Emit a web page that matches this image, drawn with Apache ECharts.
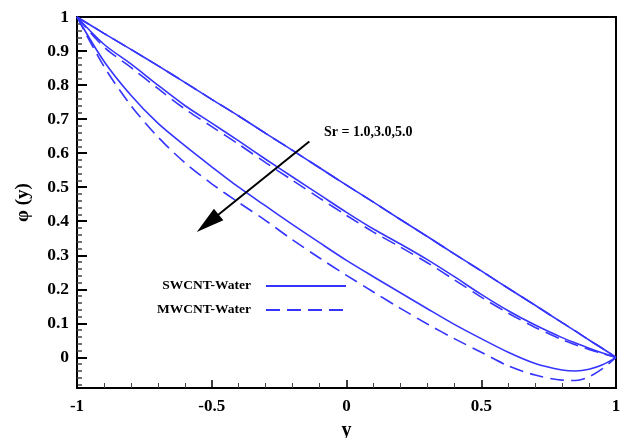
<!DOCTYPE html>
<html>
<head>
<meta charset="utf-8">
<script src="https://cdn.jsdelivr.net/npm/echarts@6/dist/echarts.min.js"></script>
<style>
html,body{margin:0;padding:0;background:#fff;}
#chart{width:622px;height:438px;}
</style>
</head>
<body>
<div id="chart"></div>
<script>
var yPos = [-1,-0.9,-0.8,-0.7,-0.6,-0.5,-0.4,-0.3,-0.2,-0.1,0,0.1,0.2,0.3,0.4,0.5,0.6,0.7,0.8,0.85,0.9,0.95,1];
var sw_Sr1 = [1,0.952,0.905,0.857,0.808,0.758,0.709,0.658,0.608,0.557,0.506,0.456,0.405,0.355,0.304,0.254,0.203,0.153,0.102,0.077,0.051,0.026,0];
var mw_Sr1 = [1,0.952,0.905,0.857,0.808,0.758,0.709,0.658,0.608,0.557,0.506,0.456,0.405,0.355,0.304,0.254,0.203,0.153,0.102,0.077,0.051,0.026,0];
var sw_Sr3 = [1,0.92,0.862,0.80,0.74,0.688,0.636,0.582,0.53,0.478,0.426,0.377,0.333,0.287,0.237,0.185,0.137,0.095,0.058,0.042,0.027,0.013,0];
var mw_Sr3 = [1,0.912,0.852,0.79,0.73,0.678,0.626,0.572,0.52,0.468,0.417,0.368,0.324,0.278,0.228,0.177,0.13,0.088,0.052,0.037,0.023,0.011,0];
var sw_Sr5 = [1,0.87,0.77,0.688,0.622,0.56,0.50,0.445,0.39,0.337,0.285,0.237,0.19,0.143,0.097,0.055,0.015,-0.018,-0.037,-0.04,-0.035,-0.022,0];
var mw_Sr5 = [1,0.855,0.74,0.648,0.572,0.51,0.455,0.402,0.345,0.292,0.241,0.192,0.144,0.098,0.055,0.015,-0.025,-0.052,-0.067,-0.068,-0.057,-0.033,0];
var yTickLabels = [0,0.1,0.2,0.3,0.4,0.5,0.6,0.7,0.8,0.9,1];
var yMinorTicks = [-0.08,-0.06,-0.04,-0.02,0.02,0.04,0.06,0.08,0.12,0.14,0.16,0.18,0.22,0.24,0.26,0.28,0.32,0.34,0.36,0.38,0.42,0.44,0.46,0.48,0.52,0.54,0.56,0.58,0.62,0.64,0.66,0.68,0.72,0.74,0.76,0.78,0.82,0.84,0.86,0.88,0.92,0.94,0.96,0.98];
var arrowStart = [-0.138, 0.634];
var arrowEnd = [-0.515, 0.394];
var annoText = 'Sr = 1.0,3.0,5.0';
var annoPos = [-0.0835, 0.661];

var FONT = '"Liberation Serif","Times New Roman",serif';
var BLUE = '#3535ff';
function pairs(vals){ return yPos.map(function(x,i){ return [x, vals[i]]; }); }
function mk(name, vals, dashed){
  return {
    name: name, type: 'line', data: pairs(vals), smooth: 0.3, symbol: 'none',
    lineStyle: {color: BLUE, width: 1.6, type: dashed ? [14,7] : 'solid'},
    itemStyle: {color: BLUE}, z: 3
  };
}
var chart = echarts.init(document.getElementById('chart'));
var series = [
  mk('SWCNT-Water', sw_Sr1, false),
  mk('SWCNT-Water', sw_Sr3, false),
  mk('SWCNT-Water', sw_Sr5, false),
  mk('MWCNT-Water', mw_Sr1, true),
  mk('MWCNT-Water', mw_Sr3, true),
  mk('MWCNT-Water', mw_Sr5, true),
  {
    type: 'line', data: [], silent: true,
    markLine: {
      silent: true, animation: false,
      symbol: ['none', 'triangle'], symbolSize: [15, 28],
      lineStyle: {color: '#000', width: 2, type: 'solid'},
      label: {show: false},
      data: [[{coord: arrowStart}, {coord: arrowEnd}]]
    }
  }
];
chart.setOption({
  animation: false,
  grid: {left: 77, right: 6, top: 17, bottom: 50, outerBoundsMode: 'none', containLabel: false,
    show: true, borderColor: '#000', borderWidth: 2},
  legend: {
    data: ['SWCNT-Water', 'MWCNT-Water'],
    orient: 'vertical', left: 152, top: 274, align: 'right',
    itemWidth: 80, itemHeight: 14, itemGap: 10,
    itemStyle: {opacity: 0},
    textStyle: {fontFamily: FONT, fontWeight: 'bold', fontSize: 13.5, color: '#000', padding: [0, 10, 0, 0]},
    selectedMode: false
  },
  xAxis: {
    type: 'value', min: -1, max: 1, interval: 0.5,
    name: 'y', nameLocation: 'middle', nameGap: 33,
    nameTextStyle: {fontFamily: FONT, fontWeight: 'bold', fontSize: 20, color: '#000'},
    axisLine: {show: true, onZero: false, lineStyle: {color: '#000', width: 2}},
    axisTick: {show: true, inside: true, length: 8, lineStyle: {color: '#000', width: 1.5}},
    minorTick: {show: true, splitNumber: 5, length: 5, lineStyle: {color: '#444', width: 1}},
    splitLine: {show: false},
    axisLabel: {fontFamily: FONT, fontWeight: 'bold', fontSize: 17, color: '#000', margin: 10,
      formatter: function(v){ return String(Math.round(v*10)/10); }}
  },
  yAxis: [{
    type: 'value', min: -0.09, max: 1,
    name: 'φ (y)', nameLocation: 'middle', nameGap: 44, nameRotate: 90,
    nameTextStyle: {fontFamily: FONT, fontWeight: 'bold', fontSize: 19, color: '#000'},
    axisLine: {show: true, onZero: false, lineStyle: {color: '#000', width: 2}},
    axisTick: {show: true, inside: true, length: 10, customValues: yTickLabels, lineStyle: {color: '#000', width: 2}},
    splitLine: {show: false},
    axisLabel: {customValues: yTickLabels, fontFamily: FONT, fontWeight: 'bold', fontSize: 17.5, color: '#000', margin: 8,
      formatter: function(v){ var r = Math.round(v*10)/10; return (r === 0 || r === 1) ? String(r) : r.toFixed(1); }}
  }, {
    type: 'value', min: -0.09, max: 1, position: 'left',
    axisLine: {show: false, onZero: false},
    axisTick: {show: true, inside: true, length: 5, customValues: yMinorTicks, lineStyle: {color: '#444', width: 1.5}},
    axisLabel: {show: false},
    splitLine: {show: false}
  }],
  series: series
});
var p = chart.convertToPixel({gridIndex: 0}, annoPos);
chart.setOption({
  graphic: [{
    type: 'text', x: p[0], y: p[1],
    style: {text: annoText, fontFamily: FONT, fontWeight: 'bold', fontSize: 14, fill: '#000', verticalAlign: 'middle', align: 'left'}
  }]
});
</script>
</body>
</html>
